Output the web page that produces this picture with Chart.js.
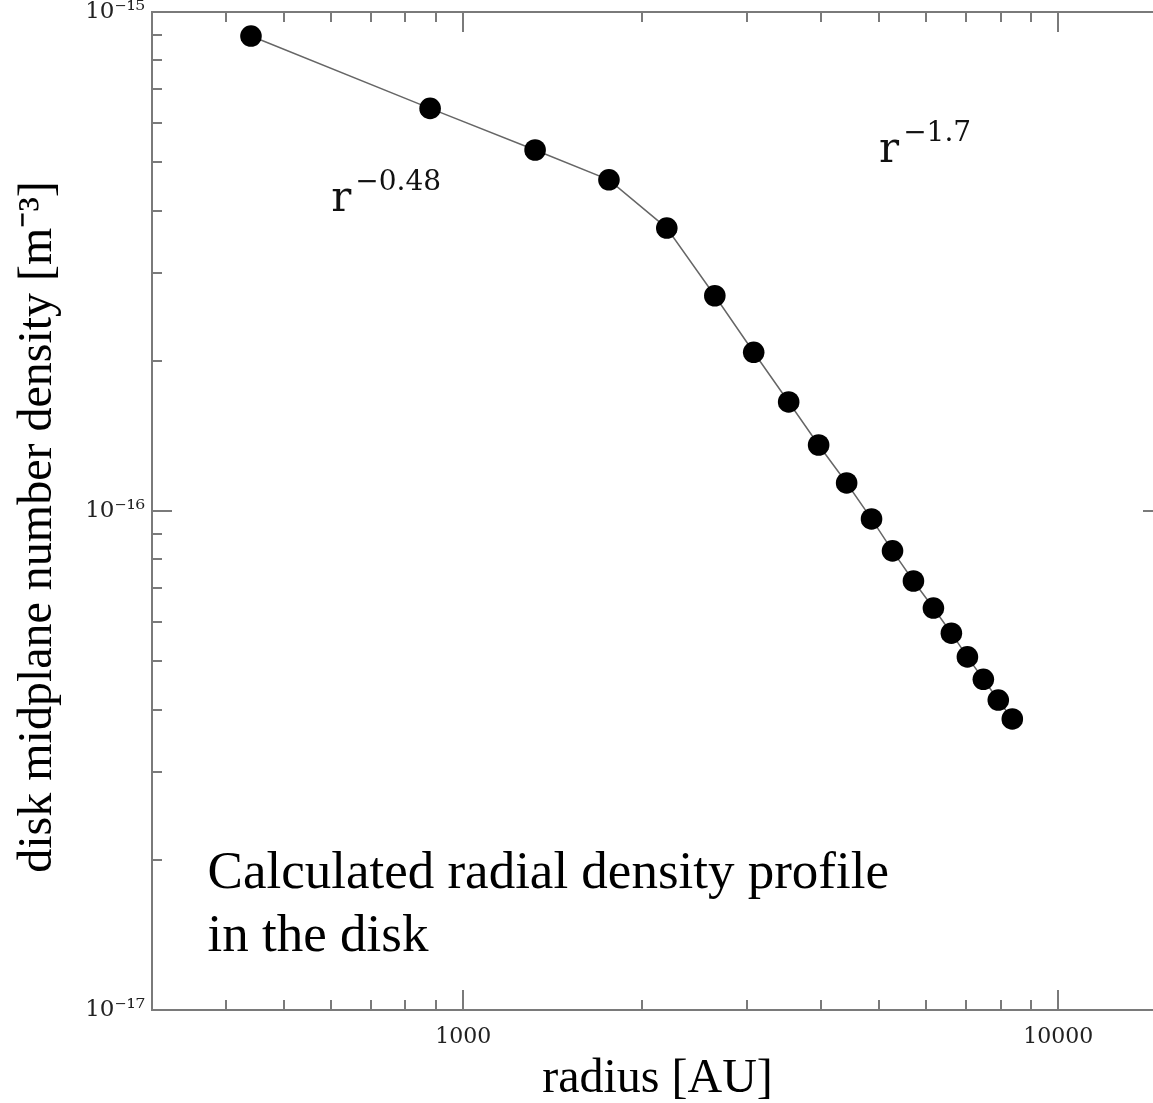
<!DOCTYPE html>
<html><head><meta charset="utf-8">
<script src="https://cdn.jsdelivr.net/npm/chart.js@4.4.0/dist/chart.umd.min.js"></script>
<style>
html,body{margin:0;padding:0;background:#fff;overflow:hidden;width:1153px;height:1103px}
#wrap{position:absolute;left:0;top:0;width:1175px;height:1103px}
</style></head>
<body><div id="wrap"><canvas id="c" width="1175" height="1103"></canvas></div>
<script>
// ---- data ----
const radiusAU = [440, 880, 1321, 1758, 2199, 2648, 3078, 3524, 3957, 4410, 4856, 5267, 5711, 6170, 6614, 7037, 7485, 7930, 8372];
const density  = [8.95e-16, 6.41e-16, 5.29e-16, 4.61e-16, 3.69e-16, 2.70e-16, 2.08e-16, 1.654e-16, 1.356e-16, 1.138e-16,
                  9.64e-17, 8.32e-17, 7.24e-17, 6.39e-17, 5.69e-17, 5.10e-17, 4.60e-17, 4.18e-17, 3.83e-17];
const xMajorTicks = [1000, 10000];
const xTickLabels = ['1000', '10000'];
const xMinorTicks = [400, 500, 600, 700, 800, 900, 2000, 3000, 4000, 5000, 6000, 7000, 8000, 9000];
const yMajorTicks = [1e-17, 1e-16, 1e-15];
const yTickLabels = ['10\u207B\u00B9\u2077', '10\u207B\u00B9\u2076', '10\u207B\u00B9\u2075'];
const yMinorTicks = [2e-17, 3e-17, 4e-17, 5e-17, 6e-17, 7e-17, 8e-17, 9e-17, 2e-16, 3e-16, 4e-16, 5e-16, 6e-16, 7e-16, 8e-16, 9e-16];
const xRange = [300, 15000];
const yRange = [1e-17, 1e-15];
const annotations = [
  {base: 'r', exp: '\u22120.48', x: 600, y: 4.0e-16},
  {base: 'r', exp: '\u22121.7',  x: 5000, y: 5.0e-16}
];
const noteLines = ['Calculated radial density profile', 'in the disk'];
const notePos = {x: 372, y: 1.87e-17};

function near(a, b) { return Math.abs(a - b) / b < 1e-6; }
function buildTicks(majors, minors) {
  return majors.map(v => ({value: v, major: true}))
    .concat(minors.map(v => ({value: v, major: false})))
    .sort((a, b) => a.value - b.value);
}

const framePlugin = {
  id: 'frame',
  beforeDatasetsDraw(chart) {
    const {ctx, chartArea: {left, right, top, bottom}, scales: {x, y}} = chart;
    ctx.save();
    ctx.strokeStyle = '#7a7a7a';
    ctx.lineWidth = 2;
    ctx.strokeRect(left, top, right - left, bottom - top);
    ctx.beginPath();
    x.ticks.forEach(t => {
      if (t.value <= xRange[0] || t.value >= xRange[1]) return;
      const px = Math.round(x.getPixelForValue(t.value));
      const L = t.major ? 20 : 10;
      ctx.moveTo(px, bottom); ctx.lineTo(px, bottom - L);
      ctx.moveTo(px, top); ctx.lineTo(px, top + L);
    });
    y.ticks.forEach(t => {
      if (t.value <= yRange[0] || t.value >= yRange[1]) return;
      const py = Math.round(y.getPixelForValue(t.value));
      const L = t.major ? 20 : 10;
      ctx.moveTo(left, py); ctx.lineTo(left + L, py);
      ctx.moveTo(right, py); ctx.lineTo(right - L, py);
    });
    ctx.stroke();
    ctx.restore();
  },
  afterDatasetsDraw(chart) {
    const {ctx, scales: {x, y}} = chart;
    ctx.save();
    ctx.fillStyle = '#111';
    ctx.textBaseline = 'alphabetic';
    ctx.textAlign = 'left';
    annotations.forEach(a => {
      const px = x.getPixelForValue(a.x), py = y.getPixelForValue(a.y);
      ctx.font = '42px "DejaVu Serif"';
      ctx.fillText(a.base, px, py);
      const w = ctx.measureText(a.base).width;
      ctx.font = '28px "DejaVu Serif"';
      ctx.fillText(a.exp, px + w + 4, py - 21);
    });
    ctx.fillStyle = '#000';
    ctx.font = '53px "Liberation Serif"';
    ctx.textBaseline = 'middle';
    const nx = x.getPixelForValue(notePos.x), ny = y.getPixelForValue(notePos.y);
    noteLines.forEach((t, i) => ctx.fillText(t, nx, ny + i * 63));
    ctx.restore();
  }
};

new Chart(document.getElementById('c'), {
  type: 'scatter',
  data: {
    datasets: [{
      data: radiusAU.map((r, i) => ({x: r, y: density[i]})),
      showLine: true,
      borderColor: '#666',
      borderWidth: 1.5,
      pointRadius: 10.8,
      pointBackgroundColor: '#000',
      pointBorderColor: '#000',
      pointBorderWidth: 0
    }]
  },
  options: {
    responsive: false,
    animation: false,
    devicePixelRatio: 1,
    layout: {padding: {top: 12, right: 12, left: 0, bottom: 0}},
    plugins: {legend: {display: false}, tooltip: {enabled: false}},
    scales: {
      x: {
        type: 'logarithmic',
        min: xRange[0], max: xRange[1],
        afterBuildTicks(s) { s.ticks = buildTicks(xMajorTicks, xMinorTicks); },
        afterFit(s) { s.height = 93; s.paddingLeft = 0; s.paddingRight = 0; },
        grid: {display: false, drawTicks: false},
        border: {display: false},
        ticks: {
          autoSkip: false, maxRotation: 0, padding: 14,
          color: '#222', font: {family: 'DejaVu Serif', size: 22},
          callback(v) { const i = xMajorTicks.findIndex(m => near(v, m)); return i >= 0 ? xTickLabels[i] : ''; }
        },
        title: {display: true, text: 'radius [AU]', color: '#000',
          font: {family: 'Liberation Serif', size: 48, lineHeight: 1}, padding: {top: 0, bottom: 0}}
      },
      y: {
        type: 'logarithmic',
        min: yRange[0], max: yRange[1],
        afterBuildTicks(s) { s.ticks = buildTicks(yMajorTicks, yMinorTicks); },
        afterFit(s) { s.width = 152; s.paddingTop = 0; s.paddingBottom = 0; },
        grid: {display: false, drawTicks: false},
        border: {display: false},
        ticks: {
          autoSkip: false, padding: 7,
          color: '#222', font: {family: 'DejaVu Serif', size: 23},
          callback(v) { const i = yMajorTicks.findIndex(m => near(v, m)); return i >= 0 ? yTickLabels[i] : ''; }
        },
        title: {display: true, text: 'disk midplane number density [m\u207B\u00B3]\u2002\u2006', color: '#000',
          font: {family: 'Liberation Serif', size: 48, lineHeight: 1}, padding: {top: 14, bottom: 0}}
      }
    }
  },
  plugins: [framePlugin]
});
</script>
</body></html>
